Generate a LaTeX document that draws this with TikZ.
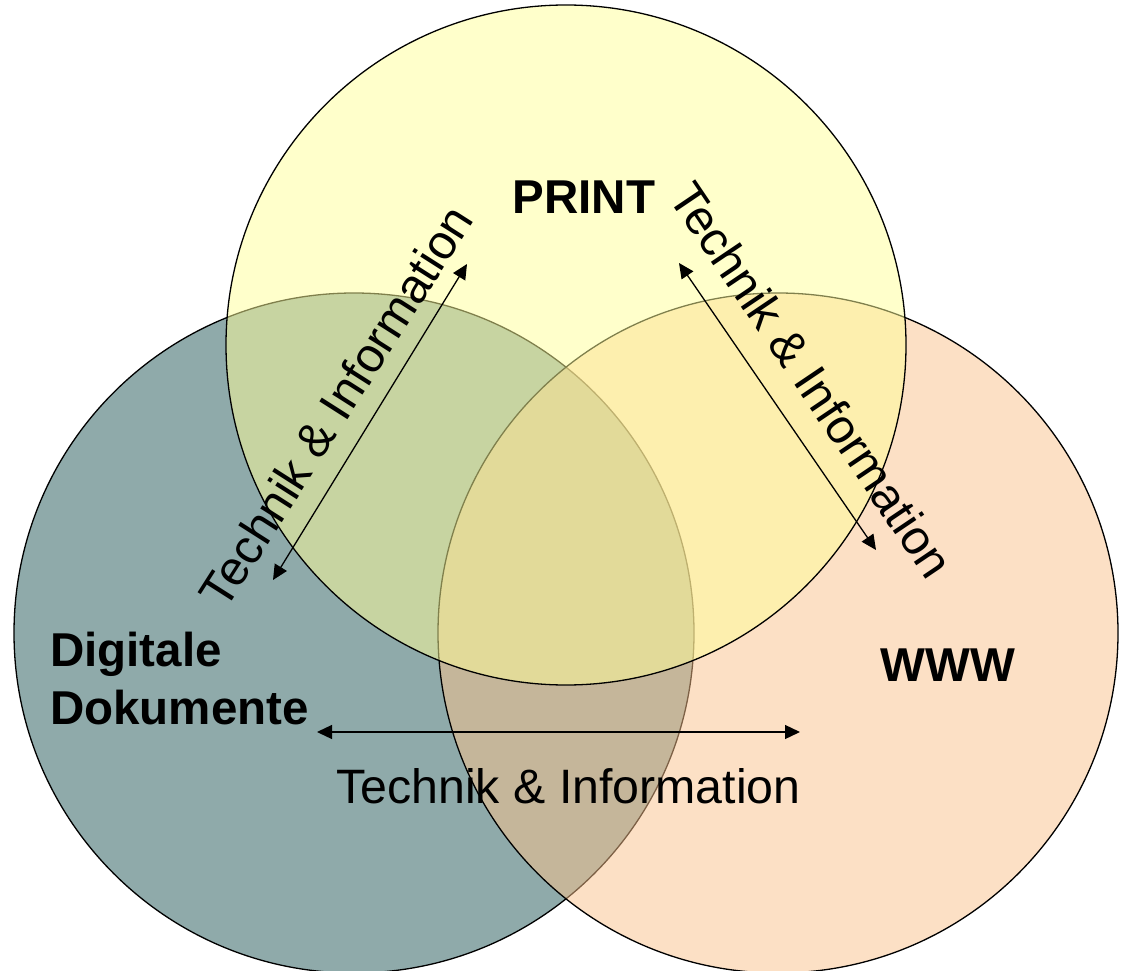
\documentclass[tikz,border=0pt]{standalone}
\usepackage{fontspec}
\setmainfont{Liberation Sans}
\usetikzlibrary{arrows.meta}
\definecolor{tealfill}{RGB}{143,170,170}
\definecolor{peachfill}{RGB}{251,194,140}
\definecolor{yellowfill}{RGB}{255,255,153}
\begin{document}
\begin{tikzpicture}[x=1pt,y=-1pt,
  ring/.style={circle, draw=black, line width=1.3pt, minimum size=680pt, inner sep=0pt},
  arr/.style={{Triangle[length=15pt,width=14pt]}-{Triangle[length=15pt,width=14pt]}, line width=1.3pt},
  lbl/.style={font=\fontsize{48.3}{58}\selectfont, inner sep=0pt},
  title/.style={font=\fontsize{47.5}{58}\selectfont\bfseries, inner sep=0pt}]
\useasboundingbox (0,0) rectangle (1122,971);
\fill[white] (0,0) rectangle (1122,971);
% circles
\node[ring, fill=tealfill] (cdd) at (354,633) {};
\node[ring, fill=peachfill, fill opacity=0.5] (cwww) at (778,633) {};
\node[ring, fill=yellowfill, fill opacity=0.5] (cprint) at (566,345) {};
% arrow end points
\coordinate (l1) at (273,580);
\coordinate (l2) at (467,264);
\coordinate (r1) at (679,263);
\coordinate (r2) at (876,550);
\coordinate (h1) at (317,732);
\coordinate (h2) at (800,732);
\draw[arr] (l1) -- (l2);
\draw[arr] (r1) -- (r2);
\draw[arr] (h1) -- (h2);
% labels
\node[title, anchor=base] (print) at (584,213) {PRINT};
\node[title, anchor=base] (www) at (948,681) {WWW};
\node[title, align=left, anchor=west] (dig) at (50,679) {Digitale\\Dokumente};
\node[lbl, anchor=base] (th) at (568.5,803) {Technik \& Information};
\node[lbl, rotate=57.5] (tl) at (336,406) {Technik \& Information};
\node[lbl, rotate=-56] (tr) at (812,380) {Technik \& Information};
\end{tikzpicture}
\end{document}
